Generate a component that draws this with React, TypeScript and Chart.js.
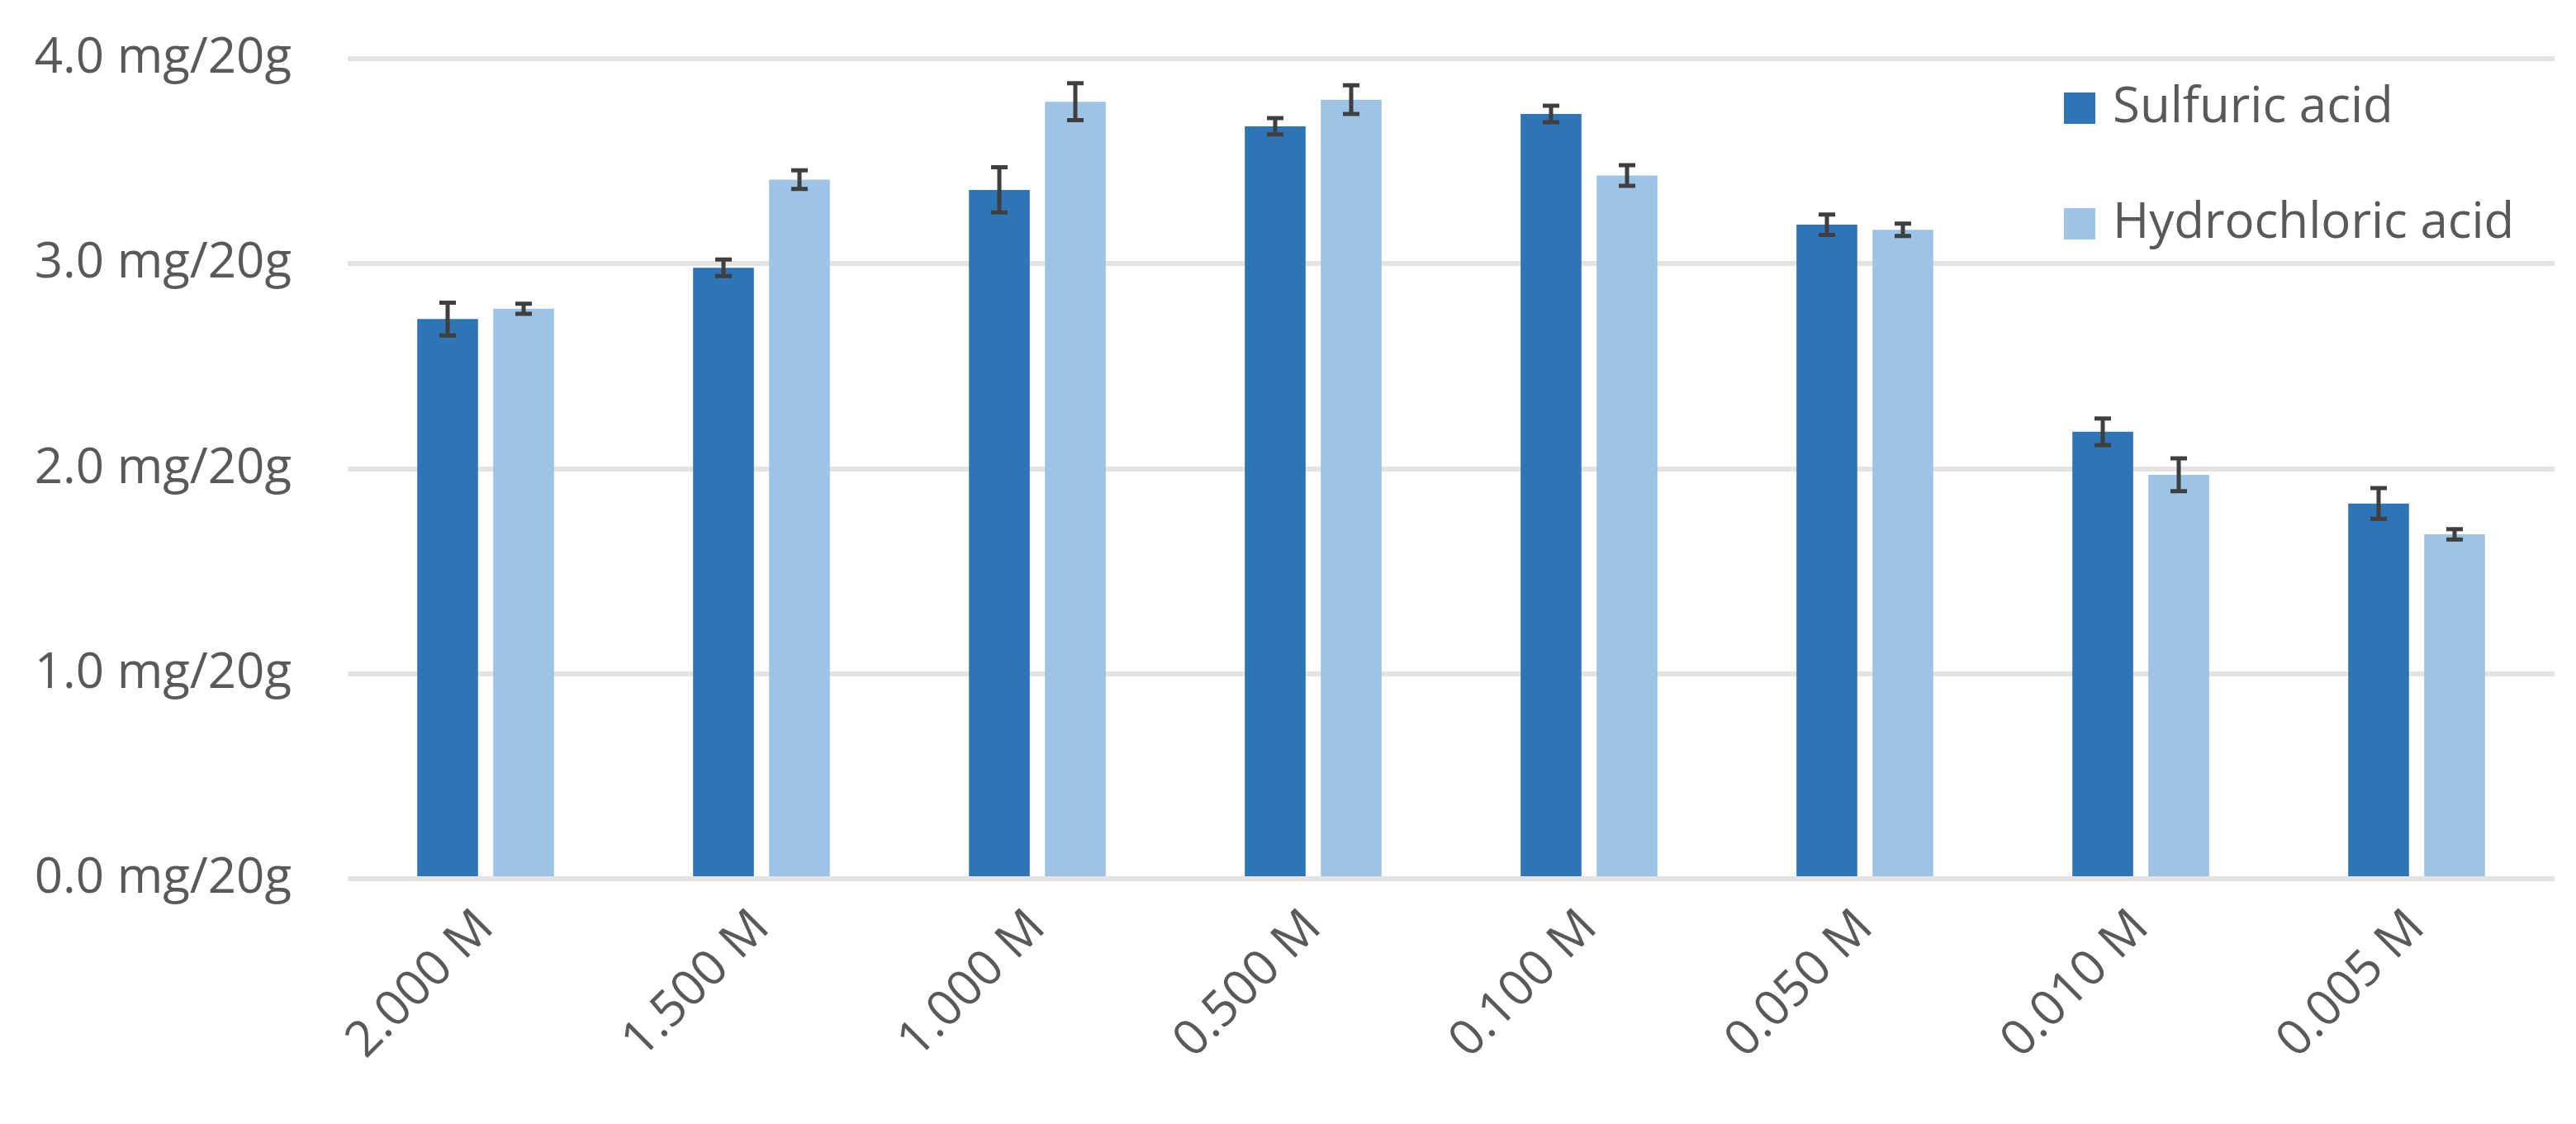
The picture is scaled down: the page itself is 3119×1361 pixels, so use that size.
import React, { useEffect, useRef } from "react";
import { Chart, registerables } from "chart.js";

Chart.register(...registerables);

const categories = ["2.000 M", "1.500 M", "1.000 M", "0.500 M", "0.100 M", "0.050 M", "0.010 M", "0.005 M"];
const seriesNames = ["Sulfuric acid", "Hydrochloric acid"];
const sulfuric = [2.73, 2.98, 3.36, 3.67, 3.73, 3.19, 2.18, 1.83];
const sulfuricErr = [0.08, 0.04, 0.11, 0.04, 0.04, 0.05, 0.065, 0.075];
const hydrochloric = [2.78, 3.41, 3.79, 3.8, 3.43, 3.165, 1.97, 1.68];
const hydrochloricErr = [0.025, 0.045, 0.09, 0.07, 0.05, 0.03, 0.08, 0.025];
const yTickValues = [0, 1, 2, 3, 4];
const yTickLabels = ["0.0 mg/20g", "1.0 mg/20g", "2.0 mg/20g", "3.0 mg/20g", "4.0 mg/20g"];
const seriesColors = ["#2E75B6", "#9DC3E6"];

const FONT = "'Open Sans', sans-serif";
const TEXT_COLOR = "#595959";

const errorBarPlugin = {
  id: "errorBars",
  afterDatasetsDraw(chart: any) {
    const ctx = chart.ctx;
    const yScale = chart.scales.y;
    chart.data.datasets.forEach((ds: any, di: number) => {
      const meta = chart.getDatasetMeta(di);
      meta.data.forEach((bar: any, i: number) => {
        const v = ds.data[i];
        const e = ds.errors[i];
        const top = yScale.getPixelForValue(v + e);
        const bot = yScale.getPixelForValue(v - e);
        const cap = 10;
        ctx.save();
        ctx.strokeStyle = "#3F3F3F";
        ctx.lineWidth = 5;
        ctx.beginPath();
        ctx.moveTo(bar.x, top);
        ctx.lineTo(bar.x, bot);
        ctx.moveTo(bar.x - cap, top);
        ctx.lineTo(bar.x + cap, top);
        ctx.moveTo(bar.x - cap, bot);
        ctx.lineTo(bar.x + cap, bot);
        ctx.stroke();
        ctx.restore();
      });
    });
  },
};

const legendPlugin = {
  id: "insideLegend",
  afterDraw(chart: any) {
    const ctx = chart.ctx;
    const area = chart.chartArea;
    const size = 38;
    const left = area.right - 594;
    const top0 = area.top + 41;
    const rowGap = 140;
    ctx.save();
    ctx.font = `60px ${FONT}`;
    ctx.textBaseline = "middle";
    ctx.textAlign = "left";
    chart.data.datasets.forEach((ds: any, i: number) => {
      const top = top0 + i * rowGap;
      ctx.fillStyle = ds.backgroundColor;
      ctx.fillRect(left, top, size, size);
      ctx.fillStyle = TEXT_COLOR;
      ctx.fillText(ds.label, left + size + 21, top + size / 2);
    });
    ctx.restore();
  },
};

export default function App() {
  const canvasRef = useRef<HTMLCanvasElement | null>(null);

  useEffect(() => {
    const canvas = canvasRef.current;
    if (!canvas) return;
    const chart = new Chart(canvas, {
      type: "bar",
      data: {
        labels: categories,
        datasets: [
          {
            label: seriesNames[0],
            data: sulfuric,
            errors: sulfuricErr,
            backgroundColor: seriesColors[0],
            barPercentage: 0.8,
            categoryPercentage: 0.551,
          } as any,
          {
            label: seriesNames[1],
            data: hydrochloric,
            errors: hydrochloricErr,
            backgroundColor: seriesColors[1],
            barPercentage: 0.8,
            categoryPercentage: 0.551,
          } as any,
        ],
      },
      options: {
        animation: false,
        responsive: false,
        devicePixelRatio: 1,
        layout: { padding: { left: 0, right: 26, top: 71, bottom: 0 } },
        plugins: {
          legend: { display: false },
          tooltip: { enabled: false },
        },
        scales: {
          x: {
            grid: { display: false, drawTicks: false },
            border: { display: false },
            ticks: {
              font: { family: FONT, size: 60 },
              color: TEXT_COLOR,
              minRotation: 45,
              maxRotation: 45,
              padding: 24,
              autoSkip: false,
            },
            afterFit: (s: any) => {
              s.height = 297;
            },
          },
          y: {
            min: 0,
            max: 4,
            afterBuildTicks: (s: any) => {
              s.ticks = yTickValues.map((v) => ({ value: v }));
            },
            grid: { color: "#E3E3E3", lineWidth: 6, drawTicks: false },
            border: { display: false },
            ticks: {
              font: { family: FONT, size: 60 },
              color: TEXT_COLOR,
              padding: 68,
              callback: (_v: any, i: number) => yTickLabels[i],
            },
            afterFit: (s: any) => {
              s.width = 421;
              s.paddingTop = 0;
              s.paddingBottom = 0;
            },
          },
        },
      },
      plugins: [errorBarPlugin, legendPlugin],
    } as any);
    return () => chart.destroy();
  }, []);

  return (
    <div style={{ position: "fixed", left: 0, top: 0, width: 3119, height: 1361, background: "#ffffff" }}>
      <canvas ref={canvasRef} width={3119} height={1361} style={{ display: "block" }} />
    </div>
  );
}
